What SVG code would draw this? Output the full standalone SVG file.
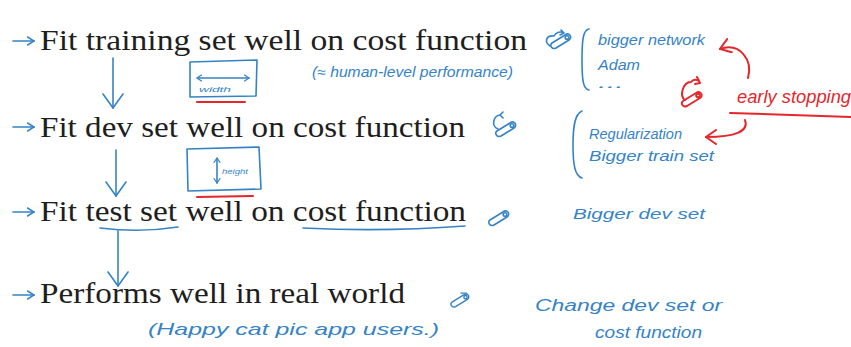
<svg xmlns="http://www.w3.org/2000/svg" width="851" height="347" viewBox="0 0 851 347">
<defs>
<style>
.main{font-family:"Liberation Serif","DejaVu Serif",serif;font-size:29px;fill:#1e1e1e}
.hb{font-family:"Liberation Sans",Arial,sans-serif;font-style:italic;font-size:14px;fill:#3583c6}
.hr{font-family:"Liberation Sans",Arial,sans-serif;font-style:italic;font-size:18px;fill:#e5262b}
.tiny{font-family:"Liberation Sans",Arial,sans-serif;font-style:italic;font-size:8px;fill:#3583c6}
.bl{fill:none;stroke:#3583c6;stroke-width:1.6;stroke-linecap:round;stroke-linejoin:round}
.rd{fill:none;stroke:#e5262b;stroke-width:2;stroke-linecap:round;stroke-linejoin:round}
</style>
<marker id="down" viewBox="0 0 16 22" refX="15" refY="11" markerWidth="16" markerHeight="22" orient="auto" markerUnits="userSpaceOnUse"><path d="M1,1 L15,11 L1,21" fill="none" stroke="#3583c6" stroke-width="1.6" stroke-linecap="round"/></marker>
<marker id="sm" viewBox="0 0 8 10" refX="7.5" refY="5" markerWidth="8" markerHeight="10" orient="auto-start-reverse" markerUnits="userSpaceOnUse"><path d="M1,1 L7.5,5 L1,9" fill="none" stroke="#3583c6" stroke-width="1.5" stroke-linecap="round"/></marker>
<marker id="tiny" viewBox="0 0 6 8" refX="5.5" refY="4" markerWidth="6" markerHeight="8" orient="auto-start-reverse" markerUnits="userSpaceOnUse"><path d="M1,1 L5.5,4 L1,7" fill="none" stroke="#3583c6" stroke-width="1.2" stroke-linecap="round"/></marker>
<marker id="red" viewBox="0 0 12 16" refX="11" refY="8" markerWidth="12" markerHeight="16" orient="auto" markerUnits="userSpaceOnUse"><path d="M1,1 L11,8 L1,15" fill="none" stroke="#e5262b" stroke-width="2" stroke-linecap="round"/></marker>
<g id="cap"><path d="M0,9 L13,1 C17,-2 21,3 17,6 L4,14 C0,16 -3,11 0,9 Z"/><circle cx="15" cy="3.5" r="1.8"/></g>
</defs>
<rect width="851" height="347" fill="#ffffff"/>

<g id="connectors">
  <path class="bl" d="M13,41 L34,41" marker-end="url(#sm)"/>
  <path class="bl" d="M13,127 L34,127" marker-end="url(#sm)"/>
  <path class="bl" d="M13,212 L34,212" marker-end="url(#sm)"/>
  <path class="bl" d="M13,295 L34,295" marker-end="url(#sm)"/>
  <path class="bl" d="M113,58 L113,108" marker-end="url(#down)"/>
  <path class="bl" d="M116,150 L116,196" marker-end="url(#down)"/>
  <path class="bl" d="M118,231 L118,286" marker-end="url(#down)"/>
  <path class="rd" d="M748,78 C753,60 740,42 720,49" marker-end="url(#red)"/>
  <path class="rd" d="M745,120 C749,131 736,137 706,137" marker-end="url(#red)"/>
</g>

<g id="line1">
  <text class="main" x="40" y="50" textLength="487" lengthAdjust="spacingAndGlyphs">Fit training set well on cost function</text>
</g>
<g id="line2">
  <text class="main" x="40" y="137" textLength="425" lengthAdjust="spacingAndGlyphs">Fit dev set well on cost function</text>
</g>
<g id="line3">
  <text class="main" x="40" y="221" textLength="426" lengthAdjust="spacingAndGlyphs">Fit test set well on cost function</text>
  <path class="bl" d="M100,228 Q140,233 178,227"/>
  <path class="bl" d="M303,228 Q385,232 465,226"/>
</g>
<g id="line4">
  <text class="main" x="40" y="303" textLength="365" lengthAdjust="spacingAndGlyphs">Performs well in real world</text>
</g>

<g id="width-box">
  <path class="bl" d="M190,62 L257,60 L256,96 L190,97 Z"/>
  <path class="bl" d="M197,78 L249,78" marker-start="url(#tiny)" marker-end="url(#tiny)"/>
  <text class="tiny" x="199" y="92" textLength="32" lengthAdjust="spacingAndGlyphs">width</text>
  <path class="rd" d="M197,102 L245,102"/>
</g>
<g id="height-box">
  <path class="bl" d="M187,149 L259,147 L261,189 L188,191 Z"/>
  <path class="bl" d="M217,158 L217,183" marker-start="url(#tiny)" marker-end="url(#tiny)"/>
  <text class="tiny" x="222" y="174" textLength="26" lengthAdjust="spacingAndGlyphs">height</text>
  <path class="rd" d="M197,197 L253,196"/>
</g>

<g id="human-level">
  <text class="hb" x="312" y="77" textLength="201" lengthAdjust="spacingAndGlyphs">(≈ human-level performance)</text>
</g>
<g id="happy">
  <text class="hb" x="148" y="335" style="font-size:17px" textLength="291" lengthAdjust="spacingAndGlyphs">(Happy cat pic app users.)</text>
</g>

<g id="icons" class="bl">
  <g transform="translate(552,34)"><use href="#cap"/><path d="M-2,12 C-8,8 -6,1 2,2 C4,-2 9,-3 12,-1 M9,-4 L12,-1 L8,1"/></g>
  <g transform="translate(497,122)"><use href="#cap"/><path d="M1,7 C-6,4 -4,-6 3,-7 M6,-10 L3,-7 L6,-4"/></g>
  <g transform="translate(490,211)"><use href="#cap"/></g>
  <g transform="translate(452,294) scale(0.9)"><use href="#cap"/><path d="M10,-1 L16,-1"/></g>
</g>
<g id="red-icon" class="rd">
  <g transform="translate(683,92)"><use href="#cap"/><path d="M2,8 C-4,4 0,-10 8,-10 C11,-14 16,-12 17,-9 M14,-15 L17,-9 L12,-8"/></g>
</g>

<g id="fix-train">
  <path class="bl" d="M589,29 C583,30 582,40 582,60 C582,80 583,89 589,90"/>
  <text class="hb" x="598" y="45" textLength="107" lengthAdjust="spacingAndGlyphs">bigger network</text>
  <text class="hb" x="598" y="70" textLength="42" lengthAdjust="spacingAndGlyphs">Adam</text>
  <text class="hb" x="598" y="88" textLength="26" lengthAdjust="spacingAndGlyphs">...</text>
</g>
<g id="early-stopping">
  <text class="hr" x="737" y="103" textLength="114" lengthAdjust="spacingAndGlyphs">early stopping</text>
  <path class="rd" d="M730,113 L851,117"/>
</g>
<g id="fix-dev">
  <path class="bl" d="M582,111 C574,114 573,130 573,145 C573,165 575,176 582,178"/>
  <text class="hb" x="589" y="139" textLength="93" lengthAdjust="spacingAndGlyphs">Regularization</text>
  <text class="hb" x="589" y="161" textLength="125" lengthAdjust="spacingAndGlyphs">Bigger train set</text>
</g>
<g id="fix-test">
  <text class="hb" x="573" y="219" style="font-size:15px" textLength="132" lengthAdjust="spacingAndGlyphs">Bigger dev set</text>
</g>
<g id="fix-real">
  <text class="hb" x="535" y="311" style="font-size:16px" textLength="187" lengthAdjust="spacingAndGlyphs">Change dev set or</text>
  <text class="hb" x="595" y="338" style="font-size:16px" textLength="107" lengthAdjust="spacingAndGlyphs">cost function</text>
</g>
</svg>
